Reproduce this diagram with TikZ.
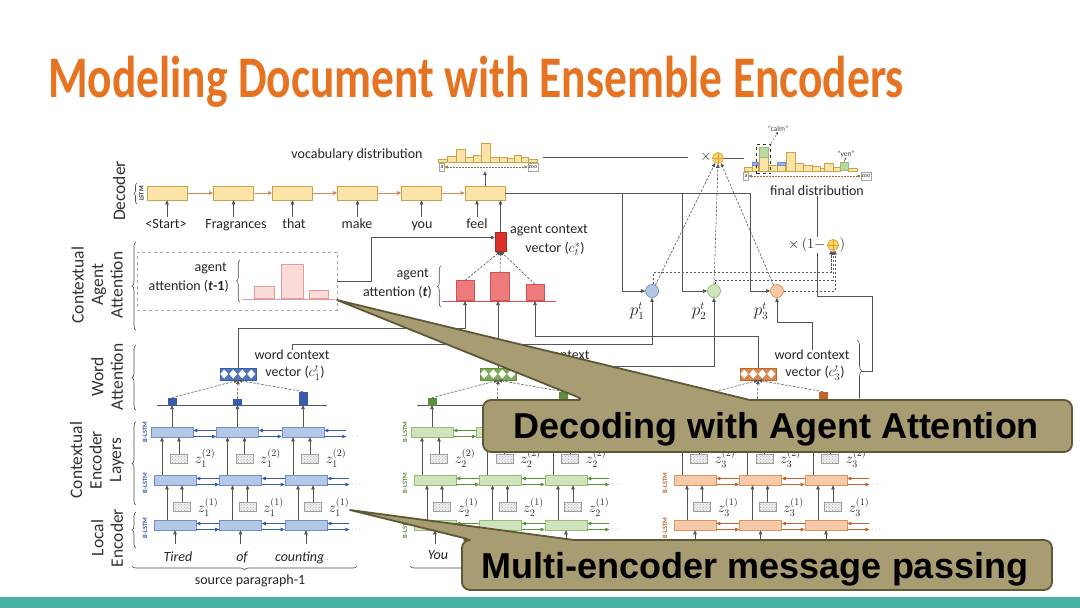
\documentclass[tikz,border=0pt]{standalone}
\usepackage{fontspec}
\setmainfont{Carlito}
\newfontfamily\calloutfont{Liberation Sans}
\usetikzlibrary{arrows.meta,decorations.pathreplacing,calc,patterns}
\definecolor{titleC}{HTML}{E67322}
\definecolor{tealC}{HTML}{4BB2A5}
\definecolor{decF}{HTML}{FCE4A8}
\definecolor{decD}{HTML}{C9A24A}
\definecolor{decA}{HTML}{D9885A}
\definecolor{bF}{HTML}{B4C7E7}
\definecolor{bD}{HTML}{6F8FC6}
\definecolor{bB}{HTML}{3A5BA8}
\definecolor{bV}{HTML}{4F74BF}
\definecolor{gF}{HTML}{CFE3BC}
\definecolor{gD}{HTML}{98BC78}
\definecolor{gB}{HTML}{5E8F3E}
\definecolor{gV}{HTML}{7DAA58}
\definecolor{oF}{HTML}{F6C9A8}
\definecolor{oD}{HTML}{D9935E}
\definecolor{oB}{HTML}{C0652C}
\definecolor{oV}{HTML}{D9894E}
\definecolor{redC}{HTML}{D9302A}
\definecolor{pinkF}{HTML}{FBDADA}
\definecolor{pinkD}{HTML}{E39C9C}
\definecolor{salF}{HTML}{EE7B7B}
\definecolor{salD}{HTML}{D05252}
\definecolor{lnC}{HTML}{555555}
\definecolor{mixF}{HTML}{F9D36B}
\definecolor{mixD}{HTML}{D9A030}
\definecolor{callF}{HTML}{A89C73}
\definecolor{callD}{HTML}{5F5837}
\definecolor{blueTop}{HTML}{9BB3E0}
\definecolor{greenTop}{HTML}{BBD8A0}
\begin{document}
\begin{tikzpicture}[x=1pt,y=-1pt,
  lab/.style={font=\fontsize{14}{15}\selectfont, inner sep=0pt, text=black!85},
  wordlab/.style={lab, text height=10pt, text depth=3pt},
  side/.style={rotate=90, align=center, font=\fontsize{17.5}{19.5}\selectfont, inner sep=0pt, text=black!80},
  arrowtip/.style={-{Triangle[length=4pt,width=3.6pt]}},
  gline/.style={draw=lnC, line width=0.7pt},
  garr/.style={gline, arrowtip},
  dsh/.style={draw=lnC, line width=0.6pt, dash pattern=on 2.5pt off 1.5pt},
  decbox/.style={draw=decD, fill=decF, minimum width=40pt, minimum height=14pt, inner sep=0pt, line width=0.7pt},
  encbox/.style={minimum width=42pt, minimum height=10pt, inner sep=0pt, line width=0.7pt},
  earr/.style={line width=0.8pt, arrowtip},
  zbox/.style={draw=gray!75, preaction={fill=gray!12}, pattern=crosshatch dots, pattern color=gray!65, minimum width=17pt, minimum height=9pt, inner sep=0pt, line width=0.6pt},
  brc/.style={decorate, decoration={brace, amplitude=4pt}, draw=black!70, line width=0.6pt},
  pcirc/.style={circle, minimum size=13pt, inner sep=0pt, line width=0.7pt},
  mixc/.style={circle, draw=mixD, fill=mixF, minimum size=11pt, inner sep=0pt, line width=0.6pt},
  callshape/.style={fill=callF, draw=callD, line width=1.8pt, line join=round},
  calltext/.style={font=\calloutfont\bfseries\fontsize{36}{40}\selectfont, inner sep=0pt, text=black},
  tinylab/.style={font=\fontsize{6.5}{7}\selectfont\bfseries, inner sep=0pt},
  zl/.style={font=\fontsize{14.5}{15}\selectfont, inner sep=0pt, text=black!85},
  axbox/.style={draw=gray!70, font=\fontsize{6}{6}\selectfont, inner sep=1pt, minimum height=8pt, text=black!80},
  histbar/.style={draw=decD, fill=decF, line width=0.6pt},
]
\useasboundingbox (0,0) rectangle (1080,608);
\fill[white] (0,0) rectangle (1080,608);
% footer
\fill[tealC] (0,597) rectangle (1080,608);
% title
\node[anchor=base west, inner sep=0pt, text=titleC, font=\fontsize{59}{60}\selectfont\bfseries] (title) at (48,97) {\scalebox{0.77}[1]{Modeling Document with Ensemble Encoders}};

% side labels and braces
\node[side] (lblDec) at (119,191) {Decoder};
\node[side] (lblCA) at (97,285) {Contextual\\Agent\\Attention};
\node[side] (lblWA) at (107,377) {Word\\Attention};
\node[side] (lblCE) at (97,460) {Contextual\\Encoder\\Layers};
\node[side] (lblLE) at (107,538) {Local\\Encoder};
\draw[brc, decoration={brace, amplitude=3pt}] (137,204) -- (137,183);
\node[tinylab, rotate=90, text=black!80] (lstm) at (141.5,193.5) {LSTM};
\draw[brc] (136,330) -- (136,242);
\draw[brc] (136,410) -- (136,345);
\draw[brc] (136,505) -- (136,422);
\draw[brc] (136,548) -- (136,512);

% decoder
\foreach \i/\x in {0/167,1/233.5,2/292.5,3/357.5,4/421.5,5/485} \node[decbox] (D\i) at (\x,193) {};
\foreach \i/\j in {0/1,1/2,2/3,3/4,4/5} \draw[draw=decA, line width=0.8pt, arrowtip] (D\i.east) -- (D\j.west);
\foreach \i/\x/\w in {0/166/\textless Start\textgreater, 1/236/Fragrances, 2/294/that, 3/357/make, 4/422/you, 5/477/feel} \node[wordlab] (w\i) at (\x,225) {\w};
\foreach \i in {0,...,4} \draw[garr, shorten <=1.5pt] (D\i.south |- w\i.north) -- (D\i.south);
\draw[garr, shorten <=1.5pt] (w5.north) -- (w5.north |- D5.south);

% vocabulary distribution
\foreach \a/\b/\t in {438/447/159.5, 447/456/156.6, 456/465/148.8, 465/473/157.4, 473/481/154.9, 481/490/143.4, 490/499/157.4, 499/507/157.4, 507/514/158.4, 514/521/155.2, 521/528/157.4, 528/537/159.5}
  \draw[histbar] (\a,162) rectangle (\b,\t);
\node[axbox] (va) at (442,167) {a};
\node[axbox] (vz) at (533,167) {zoo};
\draw[draw=decD!70!black, line width=0.6pt, dash pattern=on 2pt off 1pt, {Triangle[length=3pt,width=3pt]}-{Triangle[length=3pt,width=3pt]}] (va.east) -- (vz.west);
\node[lab] (vd) at (357,155) {vocabulary distribution};
\draw[garr] (D5.north) -- (D5.north |- va.south);
\coordinate (vR) at (543,157);
\node[lab] (mulx) at (706,157) {$\times$};
\draw[gline] (vR) -- ([xshift=-12pt]mulx.west);
\node[mixc] (mix) at (718,158) {};
\draw[mixD, line width=0.6pt] (mix.north) -- (mix.south) (mix.west) -- (mix.east);
\coordinate (fdA) at (744,158);
\draw[gline] (mix.east) -- (fdA);

% final distribution
\foreach \a/\b/\t in {744/752/167, 752/758/165, 759/768/157, 768/777/165, 777/785/165, 786/795/152, 795/803/163, 803/812/165, 812/820/166, 820/824/168, 824/833/163, 833/840/167, 848/857/168}
  \draw[histbar] (\a,171) rectangle (\b,\t);
\draw[histbar, fill=blueTop, draw=bD] (752,165) rectangle (758,162);
\draw[histbar, fill=blueTop, draw=bD] (777,165) rectangle (785,162);
\draw[histbar, fill=greenTop, draw=gD] (759,157) rectangle (768,147);
\node[draw=gD, fill=greenTop, minimum width=8pt, minimum height=8pt, inner sep=0pt, line width=0.6pt, anchor=south] (ybar) at (844,171) {};
\node[draw=black!80, dashed, line width=0.6pt, minimum width=14pt, minimum height=29.5pt, inner sep=0pt] (cb) at (763.5,158.75) {};
\node[font=\fontsize{7.5}{8}\selectfont, inner sep=0pt, text=black!75] (calm) at (778,129) {“calm”};
\node[font=\fontsize{7.5}{8}\selectfont, inner sep=0pt, text=black!75] (yen) at (846,154) {“yen”};
\draw[dsh, line width=0.4pt, -{Triangle[length=2.5pt,width=2.5pt]}] (cb.north east) -- (calm.south);
\draw[gline, line width=0.4pt, -{Triangle[length=2pt,width=2pt]}] (ybar.north) -- (yen.south);
\node[axbox] (fa) at (746,176) {a};
\node[axbox] (fz) at (866,176) {zoo};
\draw[draw=decD!70!black, line width=0.6pt, dash pattern=on 2pt off 1pt, {Triangle[length=3pt,width=3pt]}-{Triangle[length=3pt,width=3pt]}] (fa.east) -- (fz.west);
\node[lab] (fdl) at (817,191) {final distribution};

% gate circles
\node[pcirc, draw=bD, fill=bF] (p1) at (652,291) {};
\node[pcirc, draw=gD, fill=gF] (p2) at (714,291) {};
\node[pcirc, draw=oD, fill=oF] (p3) at (777,291) {};
\node[zl, font=\fontsize{16}{17}\selectfont] (pl1) at (637,311) {$p_1^t$};
\node[zl, font=\fontsize{16}{17}\selectfont] (pl2) at (699,311) {$p_2^t$};
\node[zl, font=\fontsize{16}{17}\selectfont] (pl3) at (761,311) {$p_3^t$};

% decoder output to gates
\coordinate (j1) at (622,193);
\coordinate (j2) at (682,193);
\coordinate (j3) at (750,193);
\draw[gline] (D5.east) -- (j3);
\draw[garr] (j1) |- (p1.west);
\draw[garr] (j2) |- (p2.west);
\draw[garr] (j3) |- (p3.west);

% dashed to mix
\draw[dsh, arrowtip] (p1.60) -- (mix.240);
\draw[dsh, arrowtip] (p2.90) -- (mix.270);
\draw[dsh, arrowtip] (p3.120) -- (mix.300);

% second mix
\node[mixc] (mix2) at (833,245) {};
\draw[mixD, line width=0.6pt] (mix2.north) -- (mix2.south) (mix2.west) -- (mix2.east);
\draw[dsh, arrowtip] (p1.75) |- ($(mix2.250)+(0,22)$) -- (mix2.250);
\draw[dsh, arrowtip] (p2.80) |- ($(mix2.270)+(0,29)$) -- (mix2.270);
\draw[dsh, arrowtip] (p3.east) -| (mix2.290);
\coordinate (r1) at (817,296);
\coordinate (r2) at (872,296);
\coordinate (r3) at (872,371);
\coordinate (r4) at (862,371);
\draw[gline] (fdl.south) -- (r1) -- (r2) -- (r3) -- (r4);
\node[lab, fill=white, inner sep=1pt, anchor=east] (m2l) at ([xshift=-0.5pt]mix2.west) {$\times\,(1-$};
\node[lab, anchor=west] (m2r) at ([xshift=0.5pt]mix2.east) {$)$};

% agent attention (t-1)
\node[draw=gray!70, dashed, line width=0.6pt, minimum width=200pt, minimum height=58pt, inner sep=0pt] (dbox) at (237,281) {};
\draw[pinkD, line width=0.7pt] (242,299) -- (335,299);
\node[draw=pinkD, fill=pinkF, minimum width=20pt, minimum height=12pt, inner sep=0pt, anchor=south, line width=0.6pt] (ba1) at (264,299) {};
\node[draw=pinkD, fill=pinkF, minimum width=22pt, minimum height=34pt, inner sep=0pt, anchor=south, line width=0.6pt] (ba2) at (292,299) {};
\node[draw=pinkD, fill=pinkF, minimum width=19pt, minimum height=8pt, inner sep=0pt, anchor=south, line width=0.6pt] (ba3) at (318.5,299) {};
\node[lab, anchor=east] (aa1) at (227,268) {agent};
\node[lab, anchor=east] (aa2) at (229,286) {attention (\textbf{\textit{t}}\textbf{-1})};
\draw[brc, decoration={brace, amplitude=3.5pt}] (240,302) -- (240,260);

% agent attention (t)
\draw[salD, line width=0.7pt] (442,301) -- (556,301);
\node[draw=salD, fill=salF, minimum width=18pt, minimum height=20pt, inner sep=0pt, anchor=south, line width=0.6pt] (bt1) at (465,301) {};
\node[draw=salD, fill=salF, minimum width=19pt, minimum height=28pt, inner sep=0pt, anchor=south, line width=0.6pt] (bt2) at (500,301) {};
\node[draw=salD, fill=salF, minimum width=18pt, minimum height=16pt, inner sep=0pt, anchor=south, line width=0.6pt] (bt3) at (535,301) {};
\node[lab, anchor=east] (at1) at (429,274) {agent};
\node[lab, anchor=east] (at2) at (432,292) {attention (\textbf{\textit{t}})};
\draw[brc, decoration={brace, amplitude=3.5pt}] (441,307) -- (441,266);

% agent context vector
\node[draw=redC!80!black, fill=redC, minimum width=11pt, minimum height=19pt, inner sep=0pt, line width=0.5pt] (ac) at (500.5,241.5) {};
\node[lab] (acl1) at (549,230) {agent context};
\node[lab] (acl2) at (555,249) {vector ($c_t^*$)};
\foreach \b in {bt1,bt2,bt3} \draw[dsh, arrowtip] (\b.north) -- (ac.south);
\draw[garr] (ac.north) -- (ac.north |- D5.south);
\draw[garr] (dbox.east) -- ++(34,0) |- ([yshift=4pt]ac.west);

% encoder columns
\foreach \k/\fc/\dc/\bc/\vc/\n in {0/bF/bD/bB/bV/1, 1/gF/gD/gB/gV/2, 2/oF/oD/oB/oV/3}{
  \pgfmathsetmacro\X{175+260*\k}
  \draw[gline] (\X-18,405) -- (\X+152,405);
  \node[draw=\bc, fill=\vc, minimum width=36pt, minimum height=12pt, inner sep=0pt, line width=0.5pt] (cvec\k) at (\X+63,374) {};
  \foreach \j in {0,...,3}
    \fill[white] ($(cvec\k.west)+(4.5+9*\j,0)$) +(-4,0) -- +(0,-4.5) -- +(4,0) -- +(0,4.5) -- cycle;
  \node[lab] (wc\k) at (\X+117,355) {word context};
  \node[lab] (wv\k) at (\X+120,373) {vector ($c_{\n}^{t}$)};
  \node[tinylab, rotate=90, text=\bc] (bl\k a) at (\X-30,432) {B-LSTM};
  \node[tinylab, rotate=90, text=\bc] (bl\k b) at (\X-30,483) {B-LSTM};
  \node[tinylab, rotate=90, text=\bc] (bl\k c) at (\X-30,528) {B-LSTM};
  \foreach \i in {0,1,2}{
    \pgfmathsetmacro\cx{\X+65.5*\i}
    \pgfmathsetmacro\bh{{7,6,13}[\i]}
    \node[encbox, draw=\dc, fill=\fc] (A\k\i) at (\cx-3,432) {};
    \node[encbox, draw=\dc, fill=\fc] (B\k\i) at (\cx,480) {};
    \node[encbox, draw=\dc, fill=\fc] (C\k\i) at (\cx,525) {};
    \node[draw=\bc, fill=\bc, minimum width=8pt, minimum height=\bh pt, inner sep=0pt, anchor=south] (wb\k\i) at (\cx-3,405) {};
    \node[zbox] (za\k\i) at (\cx+4,459) {};
    \node[zbox] (zb\k\i) at (\cx+7,507) {};
    \node[zl] (zla\k\i) at (\cx+30,458) {$z_{\n}^{(2)}$};
    \node[zl] (zlb\k\i) at (\cx+33,507) {$z_{\n}^{(1)}$};
    \coordinate (in\k\i) at (\cx,544);
    \draw[garr] (in\k\i) -- (C\k\i.south);
    \draw[garr] ([xshift=-8pt]C\k\i.north) -- ([xshift=-8pt]B\k\i.south);
    \draw[garr] (zb\k\i.north) -- (zb\k\i.north |- B\k\i.south);
    \draw[garr] ([xshift=-13pt]B\k\i.north) -- ([xshift=-13pt]B\k\i.north |- A\k\i.south);
    \draw[garr] (za\k\i.north) -- (za\k\i.north |- A\k\i.south);
    \draw[garr] (A\k\i.north) -- (wb\k\i.south);
    \draw[dsh, arrowtip] (wb\k\i.north) -- (cvec\k.south);
  }
  \foreach \r in {A,B,C}{
    \foreach \i/\j in {0/1,1/2}{
      \draw[earr, draw=\bc] ([yshift=1.5pt]\r\k\j.west) -- ([yshift=1.5pt]\r\k\i.east);
      \draw[earr, draw=\bc] ([yshift=-4.5pt]\r\k\i.east) -- ([yshift=-4.5pt]\r\k\j.west);
    }
    \draw[earr, draw=\bc] ([xshift=22pt,yshift=1.5pt]\r\k2.east) -- ([yshift=1.5pt]\r\k2.east);
    \draw[earr, draw=\bc] ([yshift=-4.5pt]\r\k2.east) -- ([xshift=22pt,yshift=-4.5pt]\r\k2.east);
    \node[inner sep=0pt, text=gray, font=\fontsize{8}{8}\selectfont] (dots\r\k) at ([xshift=29pt,yshift=-4.5pt]\r\k2.east) {$\cdots$};
  }
}

% words under encoders
\node[wordlab, font=\fontsize{14}{15}\selectfont\itshape] (t0) at (178,558) {Tired};
\node[wordlab, font=\fontsize{14}{15}\selectfont\itshape] (t1) at (242,558) {of};
\node[wordlab, font=\fontsize{14}{15}\selectfont\itshape] (t2) at (302,558) {counting{\fontsize{6}{6}\selectfont$\cdot\cdot$}};
\node[wordlab, font=\fontsize{14}{15}\selectfont\itshape] (t3) at (438,556) {You};
\draw[brc, decoration={brace, amplitude=4pt}] (357,566) -- (132,566);
\node[lab] (sp1) at (250,581) {source paragraph-1};
\draw[brc, decoration={brace, amplitude=4pt}] (620,566) -- (410,566);
\node[lab] (sp2) at (516,581) {source paragraph-2};

% connections from word context vectors
\draw[garr] (cvec0.north) |- ($(bt1.south)+(0,27)$) -- (bt1.south);
\draw[garr] (cvec1.north) -- (cvec1.north |- bt2.south);
\draw[garr] (cvec2.north) |- ($(bt3.south)+(0,35)$) -- (bt3.south);
\draw[garr] (wc0.north) |- ($(p1.south)+(0,46.5)$) -- (p1.south);
\coordinate (c2o) at (600,366);
\draw[garr] (c2o) -| (p2.south);
\draw[garr] (wc2.north) |- ($(p3.south)+(0,24.5)$) -- (p3.south);
\draw[brc, decoration={brace, amplitude=5pt}] (857,340) -- (857,402);

% callouts
\draw[callshape] (585,400) -- (337,300) -- (750,400) [rounded corners=8pt] -- (1072,400) -- (1072,452) -- (483,452) -- (483,400) -- cycle;
\node[calltext, anchor=base] (ct1) at (776,438) {Decoding with Agent Attention};
\draw[callshape] (472,540) -- (350,510) -- (574,540) [rounded corners=8pt] -- (1052,540) -- (1052,590) -- (462,590) -- (462,540) -- cycle;
\node[calltext, anchor=base] (ct2) at (755,578) {Multi-encoder message passing};
\end{tikzpicture}
\end{document}
